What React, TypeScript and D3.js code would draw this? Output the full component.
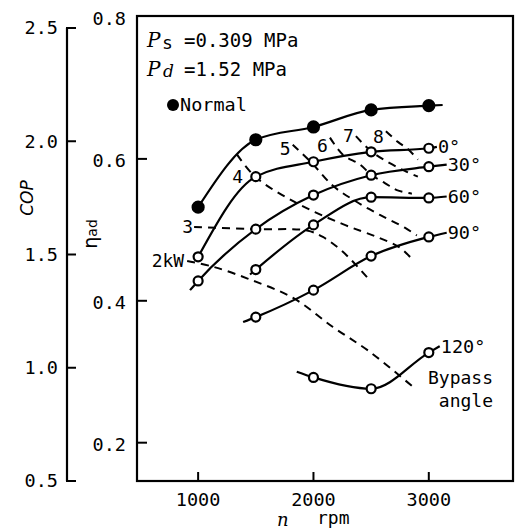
import React from "react";
import * as d3 from "d3";

// axis ticks
const rpmTicks = [1000, 2000, 3000];
const copTicks = [0.5, 1.0, 1.5, 2.0, 2.5];
const etaTicks = [0.2, 0.4, 0.6, 0.8];

// measured speeds
const rpmPoints = [1000, 1500, 2000, 2500, 3000];

// adiabatic efficiency per bypass angle (null = not measured)
const etaNormal = [0.532, 0.627, 0.645, 0.669, 0.675];
const eta0 = [0.462, 0.575, 0.596, 0.61, 0.615];
const eta30 = [0.428, 0.501, 0.549, 0.577, 0.589];
const eta60 = [null, 0.444, 0.507, 0.546, 0.545];
const eta90 = [null, 0.377, 0.415, 0.463, 0.49];
const eta120 = [null, null, 0.292, 0.276, 0.327];

// where each drawn curve begins / ends beyond the markers [rpm, eta]
const headNormal = null;
const tailNormal = [3120, 0.676];
const head0 = null;
const tail0 = [3070, 0.617];
const head30 = [930, 0.415];
const tail30 = [3155, 0.592];
const head60 = [1450, 0.437];
const tail60 = [3155, 0.547];
const head90 = [1390, 0.37];
const tail90 = [3155, 0.496];
const head120 = [1855, 0.3];
const tail120 = [3095, 0.336];

const curveLabels = ["Normal", "0°", "30°", "60°", "90°", "120°"];

// constant power lines [rpm, eta]
const power2 = [[905, 0.456], [1130, 0.448], [1450, 0.43], [1823, 0.404], [2169, 0.363], [2489, 0.328], [2853, 0.28]];
const power3 = [[965, 0.504], [1494, 0.501], [1944, 0.499], [2082, 0.49], [2255, 0.469], [2472, 0.432]];
const power4 = [[1338, 0.606], [1494, 0.575], [1840, 0.539], [2255, 0.508], [2550, 0.49], [2749, 0.475], [2853, 0.459]];
const power5 = [[1820, 0.62], [1987, 0.594], [2169, 0.562], [2359, 0.541], [2576, 0.521], [2792, 0.503], [2896, 0.492]];
const power6 = [[2143, 0.63], [2255, 0.606], [2403, 0.592], [2506, 0.577], [2619, 0.566], [2723, 0.556], [2853, 0.551]];
const power7 = [[2368, 0.632], [2506, 0.61], [2662, 0.594], [2792, 0.583], [2905, 0.575]];
const power8 = [[2628, 0.639], [2732, 0.624], [2818, 0.614], [2905, 0.599]];
const powerLabels = ["2kW", "3", "4", "5", "6", "7", "8"];

const W = 516;
const H = 531;
const mono = "'DejaVu Sans Mono', monospace";

const x = d3.scaleLinear().domain([470, 3730]).range([137, 513]);
const y = d3.scaleLinear().domain([0.146, 0.8]).range([481, 17]);
const cop = d3.scaleLinear().domain([0.5, 2.5]).range([481, 28]);

const line = d3
  .line<number[]>()
  .x(d => x(d[0]))
  .y(d => y(d[1]))
  .curve(d3.curveMonotoneX);

const dashLine = d3
  .line<number[]>()
  .x(d => x(d[0]))
  .y(d => y(d[1]))
  .curve(d3.curveCatmullRom.alpha(0.5));

const seriesValues = [etaNormal, eta0, eta30, eta60, eta90, eta120];
const heads = [headNormal, head0, head30, head60, head90, head120];
const tails = [tailNormal, tail0, tail30, tail60, tail90, tail120];

const series = seriesValues.map((vals, i) => {
  const pts = rpmPoints
    .map((r, j) => (vals[j] == null ? null : [r, vals[j] as number]))
    .filter(p => p !== null) as number[][];
  const path = [...(heads[i] ? [heads[i] as number[]] : []), ...pts, tails[i] as number[]];
  return { label: curveLabels[i], pts, path, filled: i === 0, tail: tails[i] as number[] };
});

const powerLines = [power2, power3, power4, power5, power6, power7, power8];

// label offsets (px) from the start of each power line
const powerLabelOffsets = [[-3, 6], [-1, 6], [6, 28], [-2, 10], [-2, 14], [-2, 6], [-2, 12]];

export default function App() {
  return (
    <div style={{ position: "absolute", left: 0, top: 0 }}>
      <svg width={W} height={H} style={{ display: "block", background: "#fff" }}>
        {/* COP axis */}
        <g>
          <line x1={67} x2={67} y1={cop(2.5)} y2={cop(0.5)} stroke="#000" strokeWidth={2.2} />
          {copTicks.map(t => (
            <g key={t}>
              <line x1={66} x2={76} y1={cop(t)} y2={cop(t)} stroke="#000" strokeWidth={2} />
              <text x={58} y={cop(t)} dy="0.35em" textAnchor="end" fontFamily={mono} fontSize={18.5}>
                {d3.format(".1f")(t)}
              </text>
            </g>
          ))}
          <text
            transform="translate(33,198) rotate(-90)"
            textAnchor="middle"
            fontFamily="'DejaVu Sans', sans-serif"
            fontStyle="italic"
            fontSize={17}
          >
            COP
          </text>
        </g>

        {/* plot frame and eta axis */}
        <rect x={137} y={y(0.8) - 1} width={376} height={481 - y(0.8) + 1} fill="none" stroke="#000" strokeWidth={2.2} />
        {etaTicks.map(t => (
          <g key={t}>
            {t < 0.8 && <line x1={137} x2={147} y1={y(t)} y2={y(t)} stroke="#000" strokeWidth={2} />}
            <text x={126} y={y(t) + 2} dy="0.35em" textAnchor="end" fontFamily={mono} fontSize={18.5}>
              {d3.format(".1f")(t)}
            </text>
          </g>
        ))}
        <text transform="translate(97,234) rotate(-90)" textAnchor="middle" fontFamily="'DejaVu Sans', sans-serif" fontSize={19}>
          η<tspan fontSize={14}>ad</tspan>
        </text>

        {/* x axis */}
        {rpmTicks.map(t => (
          <g key={t}>
            <line x1={x(t)} x2={x(t)} y1={481} y2={472} stroke="#000" strokeWidth={2} />
            <text x={x(t)} y={506} textAnchor="middle" fontFamily={mono} fontSize={18.5}>
              {t}
            </text>
          </g>
        ))}
        <text x={277} y={526} fontFamily="'DejaVu Serif', serif" fontStyle="italic" fontSize={18}>
          n
        </text>
        <text x={317} y={524} fontFamily={mono} fontSize={18}>
          rpm
        </text>

        {/* conditions */}
        <text x={147} y={47} fontFamily="'DejaVu Serif', serif" fontStyle="italic" fontSize={20}>
          P
        </text>
        <text x={163} y={49} fontFamily="'DejaVu Sans', sans-serif" fontSize={17}>
          s
        </text>
        <text x={184} y={47} fontFamily={mono} fontSize={19}>
          =0.309 MPa
        </text>
        <text x={147} y={76} fontFamily="'DejaVu Serif', serif" fontStyle="italic" fontSize={20}>
          P
        </text>
        <text x={163} y={77} fontFamily="'DejaVu Serif', serif" fontStyle="italic" fontSize={17}>
          d
        </text>
        <text x={184} y={76} fontFamily={mono} fontSize={19}>
          =1.52 MPa
        </text>
        <circle cx={173} cy={105} r={6} fill="#000" />
        <text x={180} y={111} fontFamily={mono} fontSize={18.5}>
          Normal
        </text>

        {/* constant power lines */}
        {powerLines.map((pl, i) => (
          <g key={i}>
            <path d={dashLine(pl) || ""} fill="none" stroke="#000" strokeWidth={2} strokeDasharray="8,6" />
            <text
              x={x(pl[0][0]) + powerLabelOffsets[i][0]}
              y={y(pl[0][1]) + powerLabelOffsets[i][1]}
              textAnchor="end"
              fontFamily={mono}
              fontSize={18}
            >
              {powerLabels[i]}
            </text>
          </g>
        ))}

        {/* efficiency curves */}
        {series.map(s => (
          <g key={s.label}>
            <path d={line(s.path) || ""} fill="none" stroke="#000" strokeWidth={2.2} />
            {s.pts.map((p, j) => (
              <circle
                key={j}
                cx={x(p[0])}
                cy={y(p[1])}
                r={s.filled ? 5.5 : 4.5}
                fill={s.filled ? "#000" : "#fff"}
                stroke="#000"
                strokeWidth={2.2}
              />
            ))}
            {!s.filled && (
              <text x={x(s.tail[0]) + 1} y={y(s.tail[1])} dy="0.35em" fontFamily={mono} fontSize={18.5}>
                {s.label}
              </text>
            )}
          </g>
        ))}
        <text x={493} y={384} textAnchor="end" fontFamily={mono} fontSize={18}>
          Bypass
        </text>
        <text x={493} y={407} textAnchor="end" fontFamily={mono} fontSize={18}>
          angle
        </text>
      </svg>
    </div>
  );
}
